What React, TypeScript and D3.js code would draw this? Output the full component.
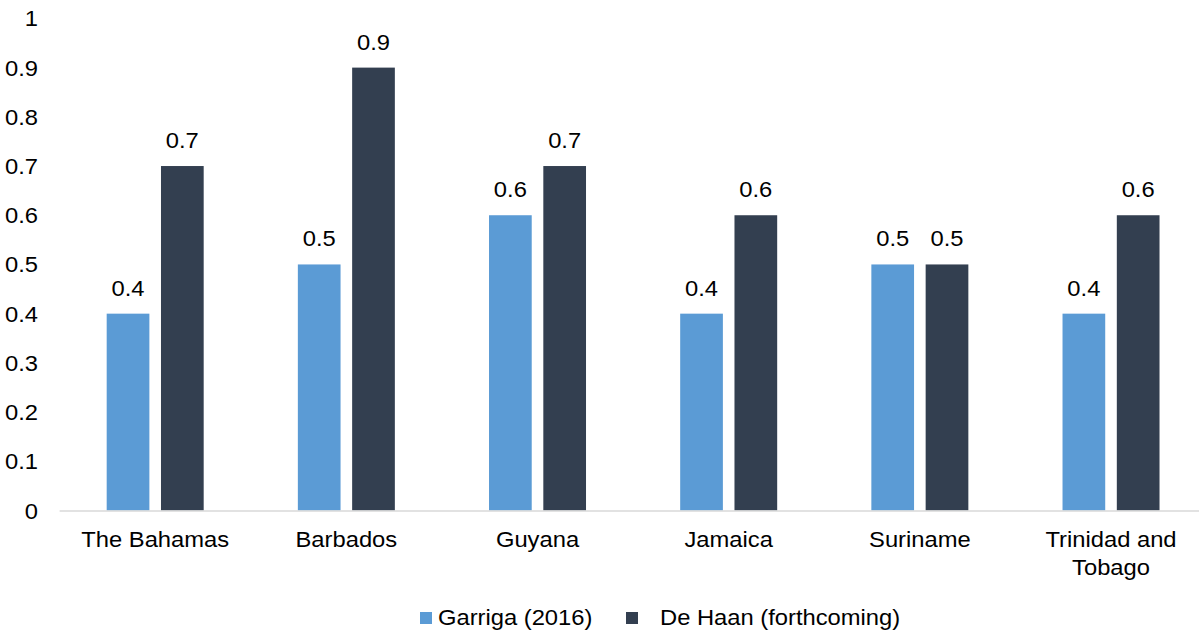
import React from "react";
import * as d3 from "d3";

// Categories and series values
const countries = ["The Bahamas", "Barbados", "Guyana", "Jamaica", "Suriname", "Trinidad and Tobago"];
const countryLines = [["The Bahamas"], ["Barbados"], ["Guyana"], ["Jamaica"], ["Suriname"], ["Trinidad and", "Tobago"]];
const seriesNames = ["Garriga (2016)", "De Haan (forthcoming)"];
const garriga = [0.4, 0.5, 0.6, 0.4, 0.5, 0.4];
const deHaan = [0.7, 0.9, 0.7, 0.6, 0.5, 0.6];
const yTicks = [0, 0.1, 0.2, 0.3, 0.4, 0.5, 0.6, 0.7, 0.8, 0.9, 1];
const colors = ["#5B9BD5", "#333F50"];

const W = 1199;
const H = 632;
const FONT = "'Liberation Sans', Arial, sans-serif";
const FS = 22;
const SX = 1.08; // horizontal text stretch

function T({ x, y, anchor = "middle", children }: { x: number; y: number; anchor?: string; children: React.ReactNode }) {
  return (
    <text
      transform={`translate(${x},${y}) scale(${SX},1)`}
      textAnchor={anchor as any}
      fontFamily={FONT}
      fontSize={FS}
      fill="#000"
    >
      {children}
    </text>
  );
}

export default function App() {
  const x0 = d3.scaleBand<string>().domain(countries).range([59.6, 1206.6]).paddingInner(0.4926).paddingOuter(0.2463);
  const x1 = d3.scaleBand<number>().domain([0, 1]).range([0, x0.bandwidth()]).paddingInner(0.2136);
  const y = d3.scaleLinear().domain([0, 1]).range([510.5, 18.4]);
  const series = [garriga, deHaan];

  return (
    <svg width={W} height={H} style={{ position: "fixed", left: 0, top: 0, background: "#fff" }}>
      <rect x={0} y={0} width={W} height={H} fill="#fff" />
      {yTicks.map((t) => (
        <T key={t} x={38} y={y(t) + 8} anchor="end">
          {d3.format("~g")(t)}
        </T>
      ))}
      {countries.map((c, i) =>
        series.map((vals, s) => {
          const bx = (x0(c) as number) + (x1(s) as number);
          const bw = x1.bandwidth();
          const v = vals[i];
          return (
            <g key={`${c}-${s}`}>
              <rect x={bx} y={y(v)} width={bw} height={y(0) - y(v)} fill={colors[s]} />
              <T x={bx + bw / 2} y={y(v) - 18}>
                {d3.format(".1f")(v)}
              </T>
            </g>
          );
        })
      )}
      <line x1={59.6} x2={W} y1={y(0) + 0.5} y2={y(0) + 0.5} stroke="#D9D9D9" strokeWidth={1.5} />
      {countries.map((c, i) =>
        countryLines[i].map((ln, j) => (
          <T key={`${c}-${j}`} x={(x0(c) as number) + x0.bandwidth() / 2} y={547 + j * 28}>
            {ln}
          </T>
        ))
      )}
      {/* legend */}
      <rect x={420} y={612} width={12} height={12} fill={colors[0]} />
      <T x={438} y={625} anchor="start">{seriesNames[0]}</T>
      <rect x={626} y={612} width={12} height={12} fill={colors[1]} />
      <T x={660} y={625} anchor="start">{seriesNames[1]}</T>
    </svg>
  );
}
